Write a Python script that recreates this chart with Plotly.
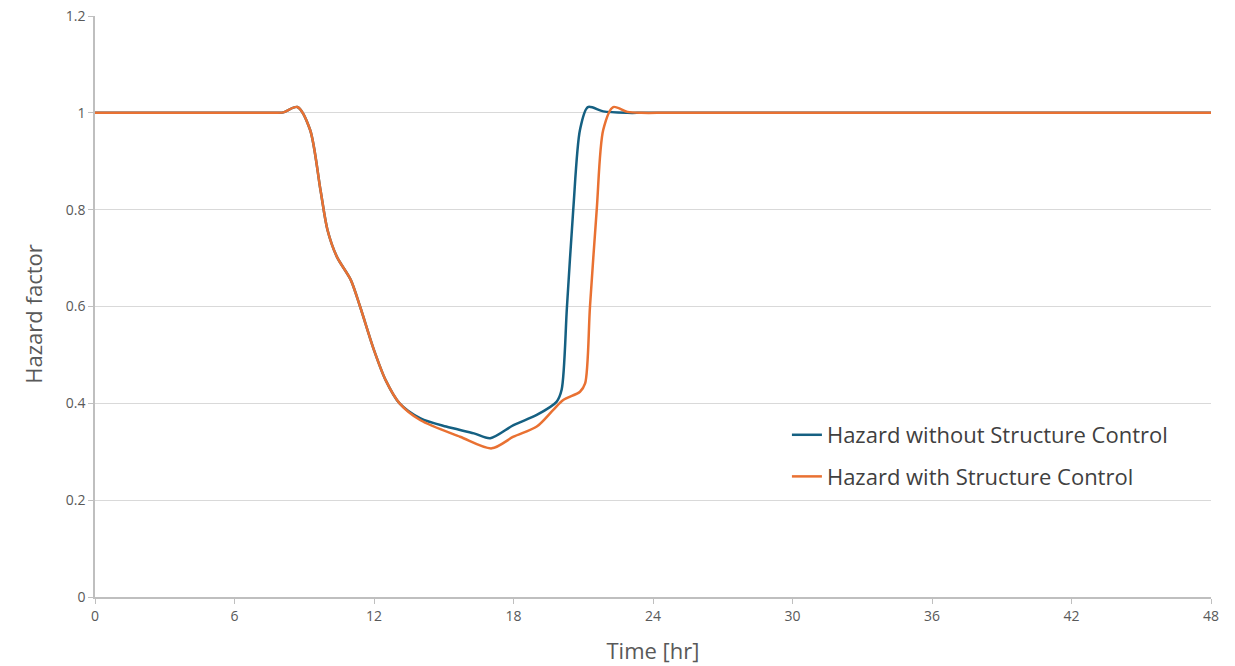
import plotly.graph_objects as go

t_without = [0, 3, 6, 7, 7.6, 8.1, 8.7, 9.25, 9.7, 10, 10.4, 11, 11.4, 12, 12.5, 13.1, 14, 15.1, 16.3, 17, 18, 19, 19.85, 20.07, 20.3, 20.57, 20.86, 21.2, 21.86, 22.9, 23.5, 24.5, 26, 30, 36, 42, 48]
h_without = [1, 1, 1, 1, 1, 1.001, 1.012, 0.965, 0.84, 0.758, 0.703, 0.655, 0.60, 0.51, 0.448, 0.40, 0.369, 0.352, 0.338, 0.328, 0.355, 0.376, 0.403, 0.428, 0.60, 0.80, 0.965, 1.012, 1.003, 1.0, 1.0, 1.0, 1.0, 1.0, 1.0, 1.0, 1.0]

t_with = [0, 3, 6, 7, 7.6, 8.1, 8.7, 9.25, 9.7, 10, 10.4, 11, 11.4, 12, 12.5, 13.1, 14, 15.7, 17.06, 18, 19, 19.7, 20.14, 20.86, 21.08, 21.29, 21.58, 21.86, 22.29, 22.9, 23.5, 24.5, 26, 30, 36, 42, 48]
h_with = [1, 1, 1, 1, 1, 1.001, 1.012, 0.965, 0.84, 0.758, 0.703, 0.655, 0.60, 0.51, 0.448, 0.40, 0.365, 0.331, 0.307, 0.331, 0.352, 0.386, 0.407, 0.424, 0.441, 0.60, 0.80, 0.965, 1.012, 1.002, 1.0, 1.0, 1.0, 1.0, 1.0, 1.0, 1.0]

x_ticks = [0, 6, 12, 18, 24, 30, 36, 42, 48]
y_ticks = [0, 0.2, 0.4, 0.6, 0.8, 1.0, 1.2]

FONT = "Open Sans"

fig = go.Figure()
fig.add_trace(go.Scatter(x=t_without, y=h_without, mode="lines",
                         name="Hazard without Structure Control", legendgroup="a",
                         line=dict(color="#156082", width=2.5, shape="spline", smoothing=0.8)))
fig.add_trace(go.Scatter(x=t_with, y=h_with, mode="lines",
                         name="Hazard with Structure Control", legendgroup="b",
                         line=dict(color="#E97132", width=2.5, shape="spline", smoothing=0.8)))

fig.update_layout(
    width=1235, height=666,
    margin=dict(l=95, r=24, t=16, b=69, autoexpand=False),
    paper_bgcolor="white", plot_bgcolor="white",
    font=dict(family=FONT, color="#595959", size=14),
    showlegend=True,
    legend=dict(x=0.62, y=0.315, xanchor="left", yanchor="top",
                font=dict(size=22, color="#404040", family=FONT),
                bgcolor="rgba(0,0,0,0)", tracegroupgap=10, itemwidth=30),
    xaxis=dict(range=[0, 48], tickvals=x_ticks, showgrid=False, zeroline=False,
               automargin=False, ticklabeloverflow="allow",
               showline=True, linecolor="#bfbfbf", linewidth=1.5,
               ticks="outside", ticklen=5, tickcolor="#bfbfbf",
               tickfont=dict(size=14, color="#595959"),
               title=dict(text="Time [hr]", font=dict(size=22, color="#595959"), standoff=20)),
    yaxis=dict(range=[0, 1.2], tickvals=y_ticks, showgrid=True, gridcolor="#d9d9d9",
               zeroline=False, automargin=False, ticklabeloverflow="allow",
               showline=True, linecolor="#bfbfbf", linewidth=1.5,
               ticks="outside", ticklen=5, tickcolor="#bfbfbf",
               tickfont=dict(size=14, color="#595959")),
    annotations=[dict(text="Hazard factor", textangle=-90, showarrow=False,
                      xref="paper", yref="paper", x=0, y=0.486,
                      xanchor="center", yanchor="middle", xshift=-62,
                      font=dict(size=22, color="#595959", family=FONT))],
)

fig.write_html("out.html", config={"displayModeBar": False},
               post_script="document.body.style.margin='0';")
